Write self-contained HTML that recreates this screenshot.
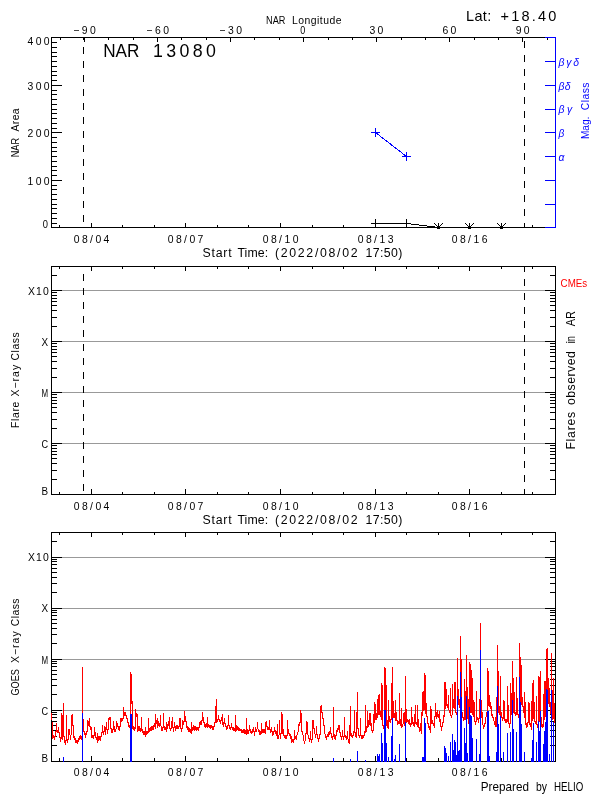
<!DOCTYPE html>
<html><head><meta charset="utf-8"><title>NAR 13080</title>
<style>
html,body{margin:0;padding:0;background:#fff;width:600px;height:800px;overflow:hidden}
svg{display:block}
text{font-family:"Liberation Sans", sans-serif;}
</style></head><body>
<svg width="600" height="800" viewBox="0 0 600 800" shape-rendering="crispEdges">
<rect x="0" y="0" width="600" height="800" fill="#fff"/>
<rect x="83" y="37" width="1" height="3" fill="#000"/>
<rect x="83" y="47" width="1" height="7" fill="#000"/>
<rect x="83" y="61" width="1" height="7" fill="#000"/>
<rect x="83" y="75" width="1" height="7" fill="#000"/>
<rect x="83" y="89" width="1" height="7" fill="#000"/>
<rect x="83" y="103" width="1" height="7" fill="#000"/>
<rect x="83" y="117" width="1" height="7" fill="#000"/>
<rect x="83" y="131" width="1" height="7" fill="#000"/>
<rect x="83" y="145" width="1" height="7" fill="#000"/>
<rect x="83" y="159" width="1" height="7" fill="#000"/>
<rect x="83" y="173" width="1" height="7" fill="#000"/>
<rect x="83" y="187" width="1" height="7" fill="#000"/>
<rect x="83" y="201" width="1" height="7" fill="#000"/>
<rect x="83" y="215" width="1" height="7" fill="#000"/>
<rect x="524" y="41" width="1" height="7" fill="#000"/>
<rect x="524" y="55" width="1" height="7" fill="#000"/>
<rect x="524" y="69" width="1" height="7" fill="#000"/>
<rect x="524" y="83" width="1" height="7" fill="#000"/>
<rect x="524" y="97" width="1" height="7" fill="#000"/>
<rect x="524" y="111" width="1" height="7" fill="#000"/>
<rect x="524" y="125" width="1" height="7" fill="#000"/>
<rect x="524" y="139" width="1" height="7" fill="#000"/>
<rect x="524" y="153" width="1" height="7" fill="#000"/>
<rect x="524" y="167" width="1" height="7" fill="#000"/>
<rect x="524" y="181" width="1" height="7" fill="#000"/>
<rect x="524" y="195" width="1" height="7" fill="#000"/>
<rect x="524" y="209" width="1" height="7" fill="#000"/>
<rect x="524" y="223" width="1" height="4" fill="#000"/>
<rect x="51" y="37" width="505" height="1" fill="#000"/>
<rect x="51" y="227" width="505" height="1" fill="#000"/>
<rect x="51" y="37" width="1" height="191" fill="#000"/>
<rect x="555" y="37" width="1" height="191" fill="#000"/>
<rect x="555" y="37" width="1" height="191" fill="#0000ff"/>
<rect x="545" y="37" width="11" height="1" fill="#0000ff"/>
<rect x="545" y="227" width="11" height="1" fill="#0000ff"/>
<rect x="545" y="61" width="11" height="1" fill="#0000ff"/>
<rect x="545" y="85" width="11" height="1" fill="#0000ff"/>
<rect x="545" y="109" width="11" height="1" fill="#0000ff"/>
<rect x="545" y="132" width="11" height="1" fill="#0000ff"/>
<rect x="545" y="156" width="11" height="1" fill="#0000ff"/>
<rect x="545" y="180" width="11" height="1" fill="#0000ff"/>
<rect x="545" y="204" width="11" height="1" fill="#0000ff"/>
<rect x="59" y="225" width="1" height="2" fill="#000"/>
<rect x="91" y="223" width="1" height="4" fill="#000"/>
<rect x="122" y="225" width="1" height="2" fill="#000"/>
<rect x="154" y="225" width="1" height="2" fill="#000"/>
<rect x="185" y="223" width="1" height="4" fill="#000"/>
<rect x="217" y="225" width="1" height="2" fill="#000"/>
<rect x="248" y="225" width="1" height="2" fill="#000"/>
<rect x="280" y="223" width="1" height="4" fill="#000"/>
<rect x="312" y="225" width="1" height="2" fill="#000"/>
<rect x="343" y="225" width="1" height="2" fill="#000"/>
<rect x="375" y="223" width="1" height="4" fill="#000"/>
<rect x="406" y="225" width="1" height="2" fill="#000"/>
<rect x="438" y="225" width="1" height="2" fill="#000"/>
<rect x="469" y="223" width="1" height="4" fill="#000"/>
<rect x="501" y="225" width="1" height="2" fill="#000"/>
<rect x="532" y="225" width="1" height="2" fill="#000"/>
<rect x="60" y="38" width="1" height="2" fill="#000"/>
<rect x="84" y="38" width="1" height="4" fill="#000"/>
<rect x="108" y="38" width="1" height="2" fill="#000"/>
<rect x="133" y="38" width="1" height="2" fill="#000"/>
<rect x="157" y="38" width="1" height="4" fill="#000"/>
<rect x="181" y="38" width="1" height="2" fill="#000"/>
<rect x="206" y="38" width="1" height="2" fill="#000"/>
<rect x="230" y="38" width="1" height="4" fill="#000"/>
<rect x="254" y="38" width="1" height="2" fill="#000"/>
<rect x="279" y="38" width="1" height="2" fill="#000"/>
<rect x="303" y="38" width="1" height="4" fill="#000"/>
<rect x="328" y="38" width="1" height="2" fill="#000"/>
<rect x="352" y="38" width="1" height="2" fill="#000"/>
<rect x="376" y="38" width="1" height="4" fill="#000"/>
<rect x="401" y="38" width="1" height="2" fill="#000"/>
<rect x="425" y="38" width="1" height="2" fill="#000"/>
<rect x="449" y="38" width="1" height="4" fill="#000"/>
<rect x="474" y="38" width="1" height="2" fill="#000"/>
<rect x="498" y="38" width="1" height="2" fill="#000"/>
<rect x="522" y="38" width="1" height="4" fill="#000"/>
<rect x="547" y="38" width="1" height="2" fill="#000"/>
<rect x="51" y="227" width="11" height="1" fill="#000"/>
<rect x="51" y="223" width="6" height="1" fill="#000"/>
<rect x="51" y="218" width="6" height="1" fill="#000"/>
<rect x="51" y="213" width="6" height="1" fill="#000"/>
<rect x="51" y="208" width="6" height="1" fill="#000"/>
<rect x="51" y="204" width="6" height="1" fill="#000"/>
<rect x="51" y="199" width="6" height="1" fill="#000"/>
<rect x="51" y="194" width="6" height="1" fill="#000"/>
<rect x="51" y="189" width="6" height="1" fill="#000"/>
<rect x="51" y="185" width="6" height="1" fill="#000"/>
<rect x="51" y="180" width="11" height="1" fill="#000"/>
<rect x="51" y="175" width="6" height="1" fill="#000"/>
<rect x="51" y="170" width="6" height="1" fill="#000"/>
<rect x="51" y="166" width="6" height="1" fill="#000"/>
<rect x="51" y="161" width="6" height="1" fill="#000"/>
<rect x="51" y="156" width="6" height="1" fill="#000"/>
<rect x="51" y="151" width="6" height="1" fill="#000"/>
<rect x="51" y="147" width="6" height="1" fill="#000"/>
<rect x="51" y="142" width="6" height="1" fill="#000"/>
<rect x="51" y="137" width="6" height="1" fill="#000"/>
<rect x="51" y="132" width="11" height="1" fill="#000"/>
<rect x="51" y="128" width="6" height="1" fill="#000"/>
<rect x="51" y="123" width="6" height="1" fill="#000"/>
<rect x="51" y="118" width="6" height="1" fill="#000"/>
<rect x="51" y="113" width="6" height="1" fill="#000"/>
<rect x="51" y="109" width="6" height="1" fill="#000"/>
<rect x="51" y="104" width="6" height="1" fill="#000"/>
<rect x="51" y="99" width="6" height="1" fill="#000"/>
<rect x="51" y="94" width="6" height="1" fill="#000"/>
<rect x="51" y="90" width="6" height="1" fill="#000"/>
<rect x="51" y="85" width="11" height="1" fill="#000"/>
<rect x="51" y="80" width="6" height="1" fill="#000"/>
<rect x="51" y="75" width="6" height="1" fill="#000"/>
<rect x="51" y="71" width="6" height="1" fill="#000"/>
<rect x="51" y="66" width="6" height="1" fill="#000"/>
<rect x="51" y="61" width="6" height="1" fill="#000"/>
<rect x="51" y="56" width="6" height="1" fill="#000"/>
<rect x="51" y="52" width="6" height="1" fill="#000"/>
<rect x="51" y="47" width="6" height="1" fill="#000"/>
<rect x="51" y="42" width="6" height="1" fill="#000"/>
<rect x="51" y="37" width="11" height="1" fill="#000"/>
<g shape-rendering="crispEdges" fill="none" stroke-width="1">
<path d="M375.5 132.5L406.5 156.5" stroke="#0000ff"/>
<path d="M375.5 223.5H406.5L438.5 227.5H501.5" stroke="#000"/>
<path d="M434.5 223.5L438.5 227.5L442.5 223.5" stroke="#000"/>
<path d="M465.5 223.5L469.5 227.5L473.5 223.5" stroke="#000"/>
<path d="M497.5 223.5L501.5 227.5L505.5 223.5" stroke="#000"/>
</g>
<rect x="438" y="223" width="1" height="6" fill="#000"/>
<rect x="437" y="226" width="3" height="3" fill="#000"/>
<rect x="469" y="223" width="1" height="6" fill="#000"/>
<rect x="468" y="226" width="3" height="3" fill="#000"/>
<rect x="501" y="223" width="1" height="6" fill="#000"/>
<rect x="500" y="226" width="3" height="3" fill="#000"/>
<rect x="371" y="132" width="9" height="1" fill="#0000ff"/>
<rect x="375" y="128" width="1" height="9" fill="#0000ff"/>
<rect x="402" y="156" width="9" height="1" fill="#0000ff"/>
<rect x="406" y="152" width="1" height="9" fill="#0000ff"/>
<rect x="371" y="223" width="9" height="1" fill="#000"/>
<rect x="375" y="219" width="1" height="9" fill="#000"/>
<rect x="402" y="223" width="9" height="1" fill="#000"/>
<rect x="406" y="219" width="1" height="9" fill="#000"/>
<rect x="52" y="290" width="503" height="1" fill="#999999"/>
<rect x="52" y="341" width="503" height="1" fill="#999999"/>
<rect x="52" y="392" width="503" height="1" fill="#999999"/>
<rect x="52" y="443" width="503" height="1" fill="#999999"/>
<rect x="83" y="266" width="1" height="1" fill="#000"/>
<rect x="83" y="274" width="1" height="7" fill="#000"/>
<rect x="83" y="288" width="1" height="7" fill="#000"/>
<rect x="83" y="302" width="1" height="7" fill="#000"/>
<rect x="83" y="316" width="1" height="7" fill="#000"/>
<rect x="83" y="330" width="1" height="7" fill="#000"/>
<rect x="83" y="344" width="1" height="7" fill="#000"/>
<rect x="83" y="358" width="1" height="7" fill="#000"/>
<rect x="83" y="372" width="1" height="7" fill="#000"/>
<rect x="83" y="386" width="1" height="7" fill="#000"/>
<rect x="83" y="400" width="1" height="7" fill="#000"/>
<rect x="83" y="414" width="1" height="7" fill="#000"/>
<rect x="83" y="428" width="1" height="7" fill="#000"/>
<rect x="83" y="442" width="1" height="7" fill="#000"/>
<rect x="83" y="456" width="1" height="7" fill="#000"/>
<rect x="83" y="470" width="1" height="7" fill="#000"/>
<rect x="83" y="484" width="1" height="7" fill="#000"/>
<rect x="524" y="266" width="1" height="6" fill="#000"/>
<rect x="524" y="279" width="1" height="7" fill="#000"/>
<rect x="524" y="293" width="1" height="7" fill="#000"/>
<rect x="524" y="307" width="1" height="7" fill="#000"/>
<rect x="524" y="321" width="1" height="7" fill="#000"/>
<rect x="524" y="335" width="1" height="7" fill="#000"/>
<rect x="524" y="349" width="1" height="7" fill="#000"/>
<rect x="524" y="363" width="1" height="7" fill="#000"/>
<rect x="524" y="377" width="1" height="7" fill="#000"/>
<rect x="524" y="391" width="1" height="7" fill="#000"/>
<rect x="524" y="405" width="1" height="7" fill="#000"/>
<rect x="524" y="419" width="1" height="7" fill="#000"/>
<rect x="524" y="433" width="1" height="7" fill="#000"/>
<rect x="524" y="447" width="1" height="7" fill="#000"/>
<rect x="524" y="461" width="1" height="7" fill="#000"/>
<rect x="524" y="475" width="1" height="7" fill="#000"/>
<rect x="524" y="489" width="1" height="5" fill="#000"/>
<rect x="51" y="266" width="505" height="1" fill="#000"/>
<rect x="51" y="494" width="505" height="1" fill="#000"/>
<rect x="51" y="266" width="1" height="229" fill="#000"/>
<rect x="555" y="266" width="1" height="229" fill="#000"/>
<rect x="51" y="290" width="11" height="1" fill="#000"/>
<rect x="545" y="290" width="11" height="1" fill="#000"/>
<rect x="51" y="341" width="11" height="1" fill="#000"/>
<rect x="545" y="341" width="11" height="1" fill="#000"/>
<rect x="51" y="392" width="11" height="1" fill="#000"/>
<rect x="545" y="392" width="11" height="1" fill="#000"/>
<rect x="51" y="443" width="11" height="1" fill="#000"/>
<rect x="545" y="443" width="11" height="1" fill="#000"/>
<rect x="51" y="275" width="6" height="1" fill="#000"/>
<rect x="550" y="275" width="6" height="1" fill="#000"/>
<rect x="51" y="326" width="6" height="1" fill="#000"/>
<rect x="550" y="326" width="6" height="1" fill="#000"/>
<rect x="51" y="317" width="6" height="1" fill="#000"/>
<rect x="550" y="317" width="6" height="1" fill="#000"/>
<rect x="51" y="310" width="6" height="1" fill="#000"/>
<rect x="550" y="310" width="6" height="1" fill="#000"/>
<rect x="51" y="305" width="6" height="1" fill="#000"/>
<rect x="550" y="305" width="6" height="1" fill="#000"/>
<rect x="51" y="301" width="6" height="1" fill="#000"/>
<rect x="550" y="301" width="6" height="1" fill="#000"/>
<rect x="51" y="298" width="6" height="1" fill="#000"/>
<rect x="550" y="298" width="6" height="1" fill="#000"/>
<rect x="51" y="295" width="6" height="1" fill="#000"/>
<rect x="550" y="295" width="6" height="1" fill="#000"/>
<rect x="51" y="292" width="6" height="1" fill="#000"/>
<rect x="550" y="292" width="6" height="1" fill="#000"/>
<rect x="51" y="377" width="6" height="1" fill="#000"/>
<rect x="550" y="377" width="6" height="1" fill="#000"/>
<rect x="51" y="368" width="6" height="1" fill="#000"/>
<rect x="550" y="368" width="6" height="1" fill="#000"/>
<rect x="51" y="361" width="6" height="1" fill="#000"/>
<rect x="550" y="361" width="6" height="1" fill="#000"/>
<rect x="51" y="356" width="6" height="1" fill="#000"/>
<rect x="550" y="356" width="6" height="1" fill="#000"/>
<rect x="51" y="352" width="6" height="1" fill="#000"/>
<rect x="550" y="352" width="6" height="1" fill="#000"/>
<rect x="51" y="349" width="6" height="1" fill="#000"/>
<rect x="550" y="349" width="6" height="1" fill="#000"/>
<rect x="51" y="346" width="6" height="1" fill="#000"/>
<rect x="550" y="346" width="6" height="1" fill="#000"/>
<rect x="51" y="343" width="6" height="1" fill="#000"/>
<rect x="550" y="343" width="6" height="1" fill="#000"/>
<rect x="51" y="428" width="6" height="1" fill="#000"/>
<rect x="550" y="428" width="6" height="1" fill="#000"/>
<rect x="51" y="419" width="6" height="1" fill="#000"/>
<rect x="550" y="419" width="6" height="1" fill="#000"/>
<rect x="51" y="412" width="6" height="1" fill="#000"/>
<rect x="550" y="412" width="6" height="1" fill="#000"/>
<rect x="51" y="407" width="6" height="1" fill="#000"/>
<rect x="550" y="407" width="6" height="1" fill="#000"/>
<rect x="51" y="403" width="6" height="1" fill="#000"/>
<rect x="550" y="403" width="6" height="1" fill="#000"/>
<rect x="51" y="400" width="6" height="1" fill="#000"/>
<rect x="550" y="400" width="6" height="1" fill="#000"/>
<rect x="51" y="397" width="6" height="1" fill="#000"/>
<rect x="550" y="397" width="6" height="1" fill="#000"/>
<rect x="51" y="394" width="6" height="1" fill="#000"/>
<rect x="550" y="394" width="6" height="1" fill="#000"/>
<rect x="51" y="479" width="6" height="1" fill="#000"/>
<rect x="550" y="479" width="6" height="1" fill="#000"/>
<rect x="51" y="470" width="6" height="1" fill="#000"/>
<rect x="550" y="470" width="6" height="1" fill="#000"/>
<rect x="51" y="463" width="6" height="1" fill="#000"/>
<rect x="550" y="463" width="6" height="1" fill="#000"/>
<rect x="51" y="458" width="6" height="1" fill="#000"/>
<rect x="550" y="458" width="6" height="1" fill="#000"/>
<rect x="51" y="454" width="6" height="1" fill="#000"/>
<rect x="550" y="454" width="6" height="1" fill="#000"/>
<rect x="51" y="451" width="6" height="1" fill="#000"/>
<rect x="550" y="451" width="6" height="1" fill="#000"/>
<rect x="51" y="448" width="6" height="1" fill="#000"/>
<rect x="550" y="448" width="6" height="1" fill="#000"/>
<rect x="51" y="445" width="6" height="1" fill="#000"/>
<rect x="550" y="445" width="6" height="1" fill="#000"/>
<rect x="59" y="492" width="1" height="2" fill="#000"/>
<rect x="91" y="489" width="1" height="5" fill="#000"/>
<rect x="122" y="492" width="1" height="2" fill="#000"/>
<rect x="154" y="492" width="1" height="2" fill="#000"/>
<rect x="185" y="489" width="1" height="5" fill="#000"/>
<rect x="217" y="492" width="1" height="2" fill="#000"/>
<rect x="248" y="492" width="1" height="2" fill="#000"/>
<rect x="280" y="489" width="1" height="5" fill="#000"/>
<rect x="312" y="492" width="1" height="2" fill="#000"/>
<rect x="343" y="492" width="1" height="2" fill="#000"/>
<rect x="375" y="489" width="1" height="5" fill="#000"/>
<rect x="406" y="492" width="1" height="2" fill="#000"/>
<rect x="438" y="492" width="1" height="2" fill="#000"/>
<rect x="469" y="489" width="1" height="5" fill="#000"/>
<rect x="501" y="492" width="1" height="2" fill="#000"/>
<rect x="532" y="492" width="1" height="2" fill="#000"/>
<rect x="59" y="267" width="1" height="2" fill="#000"/>
<rect x="91" y="267" width="1" height="4" fill="#000"/>
<rect x="122" y="267" width="1" height="2" fill="#000"/>
<rect x="154" y="267" width="1" height="2" fill="#000"/>
<rect x="185" y="267" width="1" height="4" fill="#000"/>
<rect x="217" y="267" width="1" height="2" fill="#000"/>
<rect x="248" y="267" width="1" height="2" fill="#000"/>
<rect x="280" y="267" width="1" height="4" fill="#000"/>
<rect x="312" y="267" width="1" height="2" fill="#000"/>
<rect x="343" y="267" width="1" height="2" fill="#000"/>
<rect x="375" y="267" width="1" height="4" fill="#000"/>
<rect x="406" y="267" width="1" height="2" fill="#000"/>
<rect x="438" y="267" width="1" height="2" fill="#000"/>
<rect x="469" y="267" width="1" height="4" fill="#000"/>
<rect x="501" y="267" width="1" height="2" fill="#000"/>
<rect x="532" y="267" width="1" height="2" fill="#000"/>
<rect x="52" y="557" width="503" height="1" fill="#999999"/>
<rect x="52" y="608" width="503" height="1" fill="#999999"/>
<rect x="52" y="659" width="503" height="1" fill="#999999"/>
<rect x="52" y="710" width="503" height="1" fill="#999999"/>
<rect x="51" y="532" width="505" height="1" fill="#000"/>
<rect x="51" y="761" width="505" height="1" fill="#000"/>
<rect x="51" y="532" width="1" height="230" fill="#000"/>
<rect x="555" y="532" width="1" height="230" fill="#000"/>
<rect x="51" y="557" width="11" height="1" fill="#000"/>
<rect x="545" y="557" width="11" height="1" fill="#000"/>
<rect x="51" y="608" width="11" height="1" fill="#000"/>
<rect x="545" y="608" width="11" height="1" fill="#000"/>
<rect x="51" y="659" width="11" height="1" fill="#000"/>
<rect x="545" y="659" width="11" height="1" fill="#000"/>
<rect x="51" y="710" width="11" height="1" fill="#000"/>
<rect x="545" y="710" width="11" height="1" fill="#000"/>
<rect x="51" y="541" width="6" height="1" fill="#000"/>
<rect x="550" y="541" width="6" height="1" fill="#000"/>
<rect x="51" y="592" width="6" height="1" fill="#000"/>
<rect x="550" y="592" width="6" height="1" fill="#000"/>
<rect x="51" y="583" width="6" height="1" fill="#000"/>
<rect x="550" y="583" width="6" height="1" fill="#000"/>
<rect x="51" y="577" width="6" height="1" fill="#000"/>
<rect x="550" y="577" width="6" height="1" fill="#000"/>
<rect x="51" y="572" width="6" height="1" fill="#000"/>
<rect x="550" y="572" width="6" height="1" fill="#000"/>
<rect x="51" y="568" width="6" height="1" fill="#000"/>
<rect x="550" y="568" width="6" height="1" fill="#000"/>
<rect x="51" y="564" width="6" height="1" fill="#000"/>
<rect x="550" y="564" width="6" height="1" fill="#000"/>
<rect x="51" y="561" width="6" height="1" fill="#000"/>
<rect x="550" y="561" width="6" height="1" fill="#000"/>
<rect x="51" y="559" width="6" height="1" fill="#000"/>
<rect x="550" y="559" width="6" height="1" fill="#000"/>
<rect x="51" y="643" width="6" height="1" fill="#000"/>
<rect x="550" y="643" width="6" height="1" fill="#000"/>
<rect x="51" y="634" width="6" height="1" fill="#000"/>
<rect x="550" y="634" width="6" height="1" fill="#000"/>
<rect x="51" y="628" width="6" height="1" fill="#000"/>
<rect x="550" y="628" width="6" height="1" fill="#000"/>
<rect x="51" y="623" width="6" height="1" fill="#000"/>
<rect x="550" y="623" width="6" height="1" fill="#000"/>
<rect x="51" y="619" width="6" height="1" fill="#000"/>
<rect x="550" y="619" width="6" height="1" fill="#000"/>
<rect x="51" y="615" width="6" height="1" fill="#000"/>
<rect x="550" y="615" width="6" height="1" fill="#000"/>
<rect x="51" y="612" width="6" height="1" fill="#000"/>
<rect x="550" y="612" width="6" height="1" fill="#000"/>
<rect x="51" y="610" width="6" height="1" fill="#000"/>
<rect x="550" y="610" width="6" height="1" fill="#000"/>
<rect x="51" y="694" width="6" height="1" fill="#000"/>
<rect x="550" y="694" width="6" height="1" fill="#000"/>
<rect x="51" y="685" width="6" height="1" fill="#000"/>
<rect x="550" y="685" width="6" height="1" fill="#000"/>
<rect x="51" y="679" width="6" height="1" fill="#000"/>
<rect x="550" y="679" width="6" height="1" fill="#000"/>
<rect x="51" y="674" width="6" height="1" fill="#000"/>
<rect x="550" y="674" width="6" height="1" fill="#000"/>
<rect x="51" y="670" width="6" height="1" fill="#000"/>
<rect x="550" y="670" width="6" height="1" fill="#000"/>
<rect x="51" y="666" width="6" height="1" fill="#000"/>
<rect x="550" y="666" width="6" height="1" fill="#000"/>
<rect x="51" y="663" width="6" height="1" fill="#000"/>
<rect x="550" y="663" width="6" height="1" fill="#000"/>
<rect x="51" y="661" width="6" height="1" fill="#000"/>
<rect x="550" y="661" width="6" height="1" fill="#000"/>
<rect x="51" y="745" width="6" height="1" fill="#000"/>
<rect x="550" y="745" width="6" height="1" fill="#000"/>
<rect x="51" y="736" width="6" height="1" fill="#000"/>
<rect x="550" y="736" width="6" height="1" fill="#000"/>
<rect x="51" y="730" width="6" height="1" fill="#000"/>
<rect x="550" y="730" width="6" height="1" fill="#000"/>
<rect x="51" y="725" width="6" height="1" fill="#000"/>
<rect x="550" y="725" width="6" height="1" fill="#000"/>
<rect x="51" y="721" width="6" height="1" fill="#000"/>
<rect x="550" y="721" width="6" height="1" fill="#000"/>
<rect x="51" y="717" width="6" height="1" fill="#000"/>
<rect x="550" y="717" width="6" height="1" fill="#000"/>
<rect x="51" y="714" width="6" height="1" fill="#000"/>
<rect x="550" y="714" width="6" height="1" fill="#000"/>
<rect x="51" y="712" width="6" height="1" fill="#000"/>
<rect x="550" y="712" width="6" height="1" fill="#000"/>
<rect x="59" y="758" width="1" height="3" fill="#000"/>
<rect x="91" y="756" width="1" height="5" fill="#000"/>
<rect x="122" y="758" width="1" height="3" fill="#000"/>
<rect x="154" y="758" width="1" height="3" fill="#000"/>
<rect x="185" y="756" width="1" height="5" fill="#000"/>
<rect x="217" y="758" width="1" height="3" fill="#000"/>
<rect x="248" y="758" width="1" height="3" fill="#000"/>
<rect x="280" y="756" width="1" height="5" fill="#000"/>
<rect x="312" y="758" width="1" height="3" fill="#000"/>
<rect x="343" y="758" width="1" height="3" fill="#000"/>
<rect x="375" y="756" width="1" height="5" fill="#000"/>
<rect x="406" y="758" width="1" height="3" fill="#000"/>
<rect x="438" y="758" width="1" height="3" fill="#000"/>
<rect x="469" y="756" width="1" height="5" fill="#000"/>
<rect x="501" y="758" width="1" height="3" fill="#000"/>
<rect x="532" y="758" width="1" height="3" fill="#000"/>
<rect x="59" y="533" width="1" height="2" fill="#000"/>
<rect x="91" y="533" width="1" height="4" fill="#000"/>
<rect x="122" y="533" width="1" height="2" fill="#000"/>
<rect x="154" y="533" width="1" height="2" fill="#000"/>
<rect x="185" y="533" width="1" height="4" fill="#000"/>
<rect x="217" y="533" width="1" height="2" fill="#000"/>
<rect x="248" y="533" width="1" height="2" fill="#000"/>
<rect x="280" y="533" width="1" height="4" fill="#000"/>
<rect x="312" y="533" width="1" height="2" fill="#000"/>
<rect x="343" y="533" width="1" height="2" fill="#000"/>
<rect x="375" y="533" width="1" height="4" fill="#000"/>
<rect x="406" y="533" width="1" height="2" fill="#000"/>
<rect x="438" y="533" width="1" height="2" fill="#000"/>
<rect x="469" y="533" width="1" height="4" fill="#000"/>
<rect x="501" y="533" width="1" height="2" fill="#000"/>
<rect x="532" y="533" width="1" height="2" fill="#000"/>
<path d="M52 722h1v17h-1zM53 735h1v3h-1zM54 736h1v4h-1zM55 731h1v6h-1zM56 723h1v9h-1zM57 730h1v3h-1zM58 727h1v6h-1zM59 732h1v6h-1zM60 737h1v5h-1zM61 713h1v26h-1zM62 715h1v25h-1zM63 703h1v34h-1zM64 736h1v7h-1zM65 740h1v5h-1zM66 715h1v26h-1zM67 739h1v4h-1zM68 729h1v11h-1zM69 729h1v6h-1zM70 735h1v5h-1zM71 715h1v20h-1zM72 714h1v12h-1zM73 725h1v13h-1zM74 736h1v4h-1zM75 738h1v5h-1zM76 740h1v3h-1zM77 740h1v4h-1zM78 738h1v4h-1zM79 736h1v4h-1zM80 735h1v4h-1zM81 736h1v4h-1zM82 667h1v74h-1zM83 719h1v13h-1zM84 731h1v4h-1zM85 733h1v5h-1zM86 731h1v4h-1zM87 720h1v12h-1zM88 721h1v5h-1zM89 718h1v9h-1zM90 726h1v4h-1zM91 727h1v11h-1zM92 735h1v3h-1zM93 735h1v4h-1zM94 727h1v9h-1zM95 732h1v6h-1zM96 737h1v3h-1zM97 733h1v10h-1zM98 736h1v5h-1zM99 736h1v4h-1zM100 736h1v5h-1zM101 732h1v5h-1zM102 725h1v8h-1zM103 731h1v4h-1zM104 726h1v6h-1zM105 727h1v8h-1zM106 722h1v8h-1zM107 729h1v5h-1zM108 718h1v12h-1zM109 717h1v3h-1zM110 717h1v12h-1zM111 728h1v5h-1zM112 729h1v4h-1zM113 721h1v9h-1zM114 726h1v6h-1zM115 729h1v3h-1zM116 721h1v8h-1zM117 723h1v4h-1zM118 726h1v4h-1zM119 726h1v5h-1zM120 718h1v9h-1zM121 718h1v4h-1zM122 718h1v3h-1zM123 707h1v12h-1zM124 712h1v4h-1zM125 712h1v4h-1zM126 715h1v4h-1zM127 718h1v5h-1zM128 722h1v5h-1zM129 725h1v3h-1zM130 672h1v53h-1zM131 674h1v30h-1zM132 701h1v28h-1zM133 726h1v4h-1zM134 727h1v4h-1zM135 709h1v20h-1zM136 713h1v4h-1zM137 714h1v18h-1zM138 726h1v5h-1zM139 726h1v5h-1zM140 728h1v4h-1zM141 717h1v14h-1zM142 729h1v4h-1zM143 731h1v4h-1zM144 731h1v4h-1zM145 727h1v10h-1zM146 731h1v4h-1zM147 731h1v3h-1zM148 718h1v15h-1zM149 728h1v4h-1zM150 727h1v4h-1zM151 726h1v5h-1zM152 726h1v4h-1zM153 725h1v5h-1zM154 723h1v4h-1zM155 714h1v15h-1zM156 720h1v4h-1zM157 718h1v10h-1zM158 721h1v5h-1zM159 723h1v4h-1zM160 715h1v11h-1zM161 726h1v5h-1zM162 727h1v4h-1zM163 713h1v15h-1zM164 726h1v4h-1zM165 727h1v3h-1zM166 722h1v10h-1zM167 724h1v5h-1zM168 721h1v5h-1zM169 717h1v12h-1zM170 728h1v3h-1zM171 721h1v8h-1zM172 717h1v11h-1zM173 727h1v5h-1zM174 722h1v6h-1zM175 726h1v5h-1zM176 725h1v4h-1zM177 725h1v4h-1zM178 726h1v3h-1zM179 718h1v9h-1zM180 718h1v11h-1zM181 728h1v4h-1zM182 720h1v9h-1zM183 721h1v4h-1zM184 711h1v11h-1zM185 716h1v6h-1zM186 721h1v7h-1zM187 726h1v4h-1zM188 727h1v5h-1zM189 728h1v4h-1zM190 729h1v4h-1zM191 722h1v12h-1zM192 727h1v4h-1zM193 725h1v5h-1zM194 726h1v5h-1zM195 726h1v4h-1zM196 727h1v4h-1zM197 727h1v3h-1zM198 727h1v4h-1zM199 722h1v6h-1zM200 721h1v4h-1zM201 720h1v5h-1zM202 712h1v9h-1zM203 717h1v6h-1zM204 722h1v5h-1zM205 724h1v4h-1zM206 723h1v4h-1zM207 717h1v11h-1zM208 724h1v3h-1zM209 725h1v3h-1zM210 725h1v4h-1zM211 725h1v3h-1zM212 726h1v4h-1zM213 726h1v4h-1zM214 722h1v5h-1zM215 706h1v17h-1zM216 699h1v24h-1zM217 719h1v3h-1zM218 715h1v5h-1zM219 719h1v3h-1zM220 720h1v4h-1zM221 717h1v4h-1zM222 714h1v11h-1zM223 722h1v5h-1zM224 718h1v6h-1zM225 723h1v4h-1zM226 726h1v4h-1zM227 725h1v4h-1zM228 715h1v11h-1zM229 725h1v4h-1zM230 727h1v3h-1zM231 723h1v5h-1zM232 727h1v3h-1zM233 727h1v4h-1zM234 728h1v3h-1zM235 715h1v17h-1zM236 725h1v6h-1zM237 726h1v4h-1zM238 727h1v4h-1zM239 728h1v3h-1zM240 729h1v2h-1zM241 729h1v4h-1zM242 730h1v3h-1zM243 729h1v4h-1zM244 729h1v5h-1zM245 730h1v4h-1zM246 718h1v17h-1zM247 729h1v5h-1zM248 730h1v4h-1zM249 725h1v6h-1zM250 729h1v4h-1zM251 731h1v3h-1zM252 729h1v4h-1zM253 727h1v5h-1zM254 731h1v5h-1zM255 727h1v5h-1zM256 729h1v3h-1zM257 722h1v7h-1zM258 729h1v3h-1zM259 730h1v5h-1zM260 731h1v4h-1zM261 723h1v11h-1zM262 729h1v4h-1zM263 729h1v4h-1zM264 729h1v4h-1zM265 722h1v12h-1zM266 721h1v6h-1zM267 726h1v4h-1zM268 727h1v3h-1zM269 720h1v10h-1zM270 729h1v4h-1zM271 727h1v5h-1zM272 731h1v5h-1zM273 731h1v4h-1zM274 727h1v5h-1zM275 730h1v4h-1zM276 731h1v5h-1zM277 724h1v15h-1zM278 735h1v4h-1zM279 720h1v15h-1zM280 733h1v6h-1zM281 712h1v22h-1zM282 714h1v20h-1zM283 729h1v7h-1zM284 735h1v3h-1zM285 735h1v4h-1zM286 735h1v4h-1zM287 720h1v16h-1zM288 729h1v5h-1zM289 733h1v3h-1zM290 734h1v5h-1zM291 736h1v7h-1zM292 739h1v3h-1zM293 739h1v4h-1zM294 730h1v10h-1zM295 736h1v3h-1zM296 735h1v5h-1zM297 732h1v3h-1zM298 724h1v8h-1zM299 722h1v4h-1zM300 710h1v13h-1zM301 713h1v19h-1zM302 731h1v4h-1zM303 735h1v6h-1zM304 741h1v3h-1zM305 733h1v8h-1zM306 721h1v13h-1zM307 722h1v13h-1zM308 735h1v4h-1zM309 738h1v4h-1zM310 731h1v9h-1zM311 739h1v4h-1zM312 720h1v20h-1zM313 720h1v9h-1zM314 728h1v6h-1zM315 734h1v4h-1zM316 726h1v9h-1zM317 734h1v5h-1zM318 738h1v4h-1zM319 734h1v5h-1zM320 706h1v29h-1zM321 705h1v8h-1zM322 712h1v7h-1zM323 718h1v8h-1zM324 725h1v9h-1zM325 734h1v4h-1zM326 736h1v4h-1zM327 734h1v3h-1zM328 732h1v5h-1zM329 731h1v4h-1zM330 727h1v7h-1zM331 733h1v5h-1zM332 736h1v4h-1zM333 707h1v30h-1zM334 734h1v5h-1zM335 735h1v5h-1zM336 730h1v6h-1zM337 728h1v4h-1zM338 725h1v5h-1zM339 725h1v8h-1zM340 732h1v5h-1zM341 736h1v4h-1zM342 730h1v7h-1zM343 736h1v4h-1zM344 717h1v20h-1zM345 735h1v3h-1zM346 736h1v4h-1zM347 731h1v8h-1zM348 739h1v4h-1zM349 725h1v19h-1zM350 706h1v30h-1zM351 733h1v4h-1zM352 735h1v3h-1zM353 731h1v5h-1zM354 710h1v23h-1zM355 732h1v5h-1zM356 712h1v26h-1zM357 692h1v37h-1zM358 728h1v8h-1zM359 735h1v3h-1zM360 718h1v18h-1zM361 735h1v4h-1zM362 735h1v4h-1zM363 735h1v3h-1zM364 731h1v5h-1zM365 705h1v28h-1zM366 726h1v6h-1zM367 711h1v17h-1zM368 720h1v7h-1zM369 713h1v12h-1zM370 713h1v13h-1zM371 723h1v8h-1zM372 730h1v3h-1zM373 714h1v17h-1zM374 702h1v21h-1zM375 704h1v16h-1zM376 713h1v7h-1zM377 699h1v19h-1zM378 695h1v20h-1zM379 694h1v21h-1zM380 711h1v6h-1zM381 683h1v37h-1zM382 685h1v41h-1zM383 725h1v4h-1zM384 667h1v59h-1zM385 668h1v54h-1zM386 685h1v41h-1zM387 720h1v8h-1zM388 700h1v29h-1zM389 716h1v6h-1zM390 719h1v4h-1zM391 683h1v37h-1zM392 667h1v51h-1zM393 701h1v17h-1zM394 713h1v5h-1zM395 700h1v21h-1zM396 712h1v9h-1zM397 720h1v5h-1zM398 721h1v3h-1zM399 693h1v31h-1zM400 719h1v7h-1zM401 708h1v20h-1zM402 724h1v3h-1zM403 713h1v11h-1zM404 712h1v14h-1zM405 676h1v46h-1zM406 709h1v14h-1zM407 719h1v3h-1zM408 720h1v4h-1zM409 719h1v6h-1zM410 723h1v4h-1zM411 707h1v18h-1zM412 717h1v7h-1zM413 722h1v4h-1zM414 714h1v13h-1zM415 705h1v19h-1zM416 722h1v3h-1zM417 705h1v22h-1zM418 719h1v9h-1zM419 727h1v5h-1zM420 723h1v8h-1zM421 712h1v22h-1zM422 692h1v24h-1zM423 691h1v20h-1zM424 673h1v37h-1zM425 675h1v39h-1zM426 703h1v14h-1zM427 716h1v8h-1zM428 723h1v5h-1zM429 726h1v4h-1zM430 706h1v27h-1zM431 709h1v15h-1zM432 720h1v4h-1zM433 723h1v3h-1zM434 716h1v12h-1zM435 703h1v14h-1zM436 712h1v7h-1zM437 710h1v7h-1zM438 714h1v4h-1zM439 711h1v11h-1zM440 719h1v8h-1zM441 726h1v5h-1zM442 722h1v5h-1zM443 715h1v8h-1zM444 682h1v35h-1zM445 682h1v27h-1zM446 689h1v17h-1zM447 704h1v4h-1zM448 695h1v15h-1zM449 710h1v3h-1zM450 688h1v28h-1zM451 715h1v3h-1zM452 684h1v31h-1zM453 699h1v9h-1zM454 682h1v27h-1zM455 682h1v31h-1zM456 712h1v3h-1zM457 658h1v55h-1zM458 689h1v16h-1zM459 699h1v9h-1zM460 636h1v74h-1zM461 659h1v54h-1zM462 712h1v6h-1zM463 717h1v4h-1zM464 679h1v41h-1zM465 691h1v29h-1zM466 655h1v65h-1zM467 687h1v32h-1zM468 699h1v25h-1zM469 662h1v53h-1zM470 664h1v49h-1zM471 670h1v43h-1zM472 678h1v37h-1zM473 700h1v17h-1zM474 702h1v20h-1zM475 721h1v4h-1zM476 691h1v31h-1zM477 717h1v3h-1zM478 718h1v5h-1zM479 699h1v20h-1zM480 623h1v94h-1zM481 700h1v18h-1zM482 712h1v13h-1zM483 725h1v4h-1zM484 723h1v4h-1zM485 717h1v7h-1zM486 712h1v5h-1zM487 668h1v45h-1zM488 671h1v35h-1zM489 695h1v12h-1zM490 702h1v7h-1zM491 706h1v10h-1zM492 714h1v4h-1zM493 717h1v4h-1zM494 721h1v4h-1zM495 717h1v10h-1zM496 697h1v30h-1zM497 645h1v69h-1zM498 671h1v42h-1zM499 706h1v9h-1zM500 676h1v40h-1zM501 712h1v6h-1zM502 717h1v4h-1zM503 700h1v19h-1zM504 701h1v20h-1zM505 719h1v4h-1zM506 719h1v4h-1zM507 686h1v36h-1zM508 705h1v19h-1zM509 723h1v5h-1zM510 683h1v41h-1zM511 693h1v22h-1zM512 661h1v51h-1zM513 678h1v35h-1zM514 692h1v22h-1zM515 712h1v4h-1zM516 677h1v38h-1zM517 698h1v17h-1zM518 714h1v4h-1zM519 643h1v72h-1zM520 657h1v47h-1zM521 665h1v40h-1zM522 697h1v10h-1zM523 706h1v7h-1zM524 692h1v26h-1zM525 702h1v23h-1zM526 723h1v5h-1zM527 722h1v5h-1zM528 702h1v21h-1zM529 703h1v22h-1zM530 723h1v4h-1zM531 701h1v29h-1zM532 683h1v38h-1zM533 680h1v39h-1zM534 702h1v20h-1zM535 721h1v3h-1zM536 696h1v29h-1zM537 724h1v4h-1zM538 676h1v51h-1zM539 677h1v45h-1zM540 671h1v48h-1zM541 717h1v10h-1zM542 724h1v4h-1zM543 694h1v33h-1zM544 681h1v39h-1zM545 681h1v36h-1zM546 649h1v64h-1zM547 648h1v59h-1zM548 678h1v26h-1zM549 688h1v19h-1zM550 702h1v12h-1zM551 653h1v63h-1zM552 690h1v30h-1zM553 678h1v41h-1zM554 703h1v20h-1z" fill="#ff0000"/>
<rect x="51" y="713" width="1" height="7" fill="#ff0000"/>
<path d="M63 757h1v5h-1zM82 713h1v49h-1zM130 714h1v48h-1zM131 714h1v48h-1zM333 758h1v4h-1zM350 759h1v3h-1zM357 751h1v11h-1zM365 760h1v2h-1zM377 754h1v8h-1zM378 756h1v6h-1zM379 754h1v8h-1zM381 733h1v29h-1zM382 743h1v19h-1zM384 710h1v52h-1zM385 710h1v52h-1zM386 743h1v19h-1zM388 757h1v5h-1zM391 736h1v26h-1zM392 718h1v44h-1zM394 759h1v3h-1zM395 755h1v7h-1zM399 744h1v18h-1zM405 722h1v40h-1zM422 757h1v5h-1zM423 757h1v5h-1zM424 718h1v44h-1zM425 723h1v39h-1zM444 746h1v16h-1zM445 748h1v14h-1zM446 753h1v9h-1zM448 756h1v6h-1zM450 742h1v20h-1zM452 734h1v28h-1zM453 750h1v12h-1zM454 740h1v22h-1zM455 742h1v20h-1zM456 755h1v7h-1zM457 696h1v66h-1zM458 751h1v11h-1zM459 750h1v12h-1zM460 672h1v90h-1zM461 697h1v65h-1zM464 728h1v34h-1zM465 743h1v19h-1zM466 696h1v66h-1zM467 753h1v9h-1zM469 707h1v55h-1zM470 715h1v47h-1zM471 716h1v46h-1zM472 738h1v24h-1zM476 739h1v23h-1zM479 754h1v8h-1zM480 650h1v112h-1zM487 711h1v51h-1zM488 711h1v51h-1zM489 756h1v6h-1zM496 752h1v10h-1zM497 686h1v76h-1zM498 724h1v38h-1zM500 716h1v46h-1zM503 752h1v10h-1zM507 733h1v29h-1zM510 732h1v30h-1zM512 700h1v62h-1zM513 729h1v33h-1zM516 732h1v30h-1zM519 677h1v85h-1zM520 702h1v60h-1zM521 724h1v38h-1zM524 752h1v10h-1zM531 758h1v4h-1zM532 740h1v22h-1zM533 723h1v39h-1zM536 742h1v20h-1zM538 721h1v41h-1zM539 731h1v31h-1zM540 711h1v51h-1zM543 744h1v18h-1zM544 731h1v31h-1zM545 722h1v40h-1zM546 689h1v73h-1zM547 690h1v72h-1zM549 754h1v8h-1zM551 690h1v72h-1zM553 722h1v40h-1z" fill="#0000ff"/>
<g opacity="0.999">
<text x="266" y="24" font-size="10.4" fill="#000" textLength="19.4" lengthAdjust="spacingAndGlyphs">NAR</text>
<text x="292" y="24" font-size="10.4" fill="#000" textLength="49.41">Longitude</text>
<text x="466" y="21" font-size="14.5" fill="#000" textLength="25.27">Lat:</text>
<text x="500.6" y="21" font-size="14.5" fill="#000" textLength="55.85">+18.40</text>
<text x="73.2" y="34" font-size="10.4" fill="#000" textLength="22.68">−90</text>
<text x="146.3" y="34" font-size="10.4" fill="#000" textLength="22.68">−60</text>
<text x="219.3" y="34" font-size="10.4" fill="#000" textLength="22.68">−30</text>
<text x="300.3" y="34" font-size="10.4" fill="#000" textLength="5" lengthAdjust="spacingAndGlyphs">0</text>
<text x="369.55" y="34" font-size="10.4" fill="#000" textLength="13.83">30</text>
<text x="442.55" y="34" font-size="10.4" fill="#000" textLength="13.83">60</text>
<text x="515.65" y="34" font-size="10.4" fill="#000" textLength="13.83">90</text>
<text x="103.2" y="57.2" font-size="17.8" fill="#000" textLength="36.2" lengthAdjust="spacingAndGlyphs">NAR</text>
<text x="153" y="57.2" font-size="17.8" fill="#000" textLength="62.88">13080</text>
<text x="27.6" y="45" font-size="10.4" fill="#000" textLength="21.92">400</text>
<text x="27.6" y="89.8" font-size="10.4" fill="#000" textLength="21.92">300</text>
<text x="27.6" y="137.3" font-size="10.4" fill="#000" textLength="21.92">200</text>
<text x="27.6" y="184.8" font-size="10.4" fill="#000" textLength="21.92">100</text>
<text x="42.8" y="227.8" font-size="10.4" fill="#000" textLength="5.2" lengthAdjust="spacingAndGlyphs">0</text>
<text x="19" y="157.3" font-size="10.4" fill="#000" textLength="19.4" lengthAdjust="spacingAndGlyphs" transform="rotate(-90 19 157.3)">NAR</text>
<text x="19" y="131.5" font-size="10.4" fill="#000" textLength="23.08" transform="rotate(-90 19 131.5)">Area</text>
<text x="73.72" y="243" font-size="10.4" fill="#000" textLength="35.68">08/04</text>
<text x="167.72" y="243" font-size="10.4" fill="#000" textLength="35.68">08/07</text>
<text x="262.73" y="243" font-size="10.4" fill="#000" textLength="35.68">08/10</text>
<text x="357.73" y="243" font-size="10.4" fill="#000" textLength="35.68">08/13</text>
<text x="451.73" y="243" font-size="10.4" fill="#000" textLength="35.68">08/16</text>
<text x="202.6" y="257" font-size="12.3" fill="#000" textLength="29.01">Start</text>
<text x="237.4" y="257" font-size="12.3" fill="#000" textLength="30.68">Time:</text>
<text x="275" y="257" font-size="12.3" fill="#000" textLength="82.53">(2022/08/02</text>
<text x="365.4" y="257" font-size="12.3" fill="#000" textLength="36.94">17:50)</text>
<text x="558.5" y="65.8" font-size="10.4" fill="#0000ff" textLength="20.46" style="font-style:italic">βγδ</text>
<text x="558.5" y="89.5" font-size="10.4" fill="#0000ff" textLength="12.03" style="font-style:italic">βδ</text>
<text x="558.5" y="113.2" font-size="10.4" fill="#0000ff" textLength="13.82" style="font-style:italic">βγ</text>
<text x="558.5" y="137.0" font-size="10.4" fill="#0000ff" textLength="5.8" lengthAdjust="spacingAndGlyphs" style="font-style:italic">β</text>
<text x="558.5" y="160.8" font-size="10.4" fill="#0000ff" textLength="6.3" style="font-style:italic">α</text>
<text x="589" y="139.1" font-size="10.4" fill="#0000ff" textLength="22.5" lengthAdjust="spacingAndGlyphs" transform="rotate(-90 589 139.1)">Mag.</text>
<text x="589" y="110.2" font-size="10.4" fill="#0000ff" textLength="27.75" transform="rotate(-90 589 110.2)">Class</text>
<text x="28" y="294.5" font-size="10.4" fill="#000" textLength="20.75">X10</text>
<text x="41.4" y="345.6" font-size="10.4" fill="#000" textLength="6.6" lengthAdjust="spacingAndGlyphs">X</text>
<text x="41.4" y="396.9" font-size="10.4" fill="#000" textLength="6.6" lengthAdjust="spacingAndGlyphs">M</text>
<text x="41.4" y="447.7" font-size="10.4" fill="#000" textLength="6.6" lengthAdjust="spacingAndGlyphs">C</text>
<text x="41.4" y="494.8" font-size="10.4" fill="#000" textLength="6.6" lengthAdjust="spacingAndGlyphs">B</text>
<text x="19.2" y="428" font-size="10.4" fill="#000" textLength="26.33" transform="rotate(-90 19.2 428)">Flare</text>
<text x="19.2" y="396.5" font-size="10.4" fill="#000" textLength="31.64" transform="rotate(-90 19.2 396.5)">X−ray</text>
<text x="19.2" y="360.5" font-size="10.4" fill="#000" textLength="28.25" transform="rotate(-90 19.2 360.5)">Class</text>
<text x="560.6" y="287" font-size="10.4" fill="#ff0000" textLength="26.6" lengthAdjust="spacingAndGlyphs">CMEs</text>
<text x="575.4" y="449.6" font-size="12.3" fill="#000" textLength="37.81" transform="rotate(-90 575.4 449.6)">Flares</text>
<text x="575.4" y="405" font-size="12.3" fill="#000" textLength="53.8" transform="rotate(-90 575.4 405)">observed</text>
<text x="575.4" y="343.2" font-size="12.3" fill="#000" textLength="7.2" lengthAdjust="spacingAndGlyphs" transform="rotate(-90 575.4 343.2)">in</text>
<text x="575.4" y="326.2" font-size="12.3" fill="#000" textLength="15.2" lengthAdjust="spacingAndGlyphs" transform="rotate(-90 575.4 326.2)">AR</text>
<text x="73.72" y="510" font-size="10.4" fill="#000" textLength="35.68">08/04</text>
<text x="167.72" y="510" font-size="10.4" fill="#000" textLength="35.68">08/07</text>
<text x="262.73" y="510" font-size="10.4" fill="#000" textLength="35.68">08/10</text>
<text x="357.73" y="510" font-size="10.4" fill="#000" textLength="35.68">08/13</text>
<text x="451.73" y="510" font-size="10.4" fill="#000" textLength="35.68">08/16</text>
<text x="202.6" y="524" font-size="12.3" fill="#000" textLength="29.01">Start</text>
<text x="237.4" y="524" font-size="12.3" fill="#000" textLength="30.68">Time:</text>
<text x="275" y="524" font-size="12.3" fill="#000" textLength="82.53">(2022/08/02</text>
<text x="365.4" y="524" font-size="12.3" fill="#000" textLength="36.94">17:50)</text>
<text x="28" y="561.4" font-size="10.4" fill="#000" textLength="20.75">X10</text>
<text x="41.4" y="612.2" font-size="10.4" fill="#000" textLength="6.6" lengthAdjust="spacingAndGlyphs">X</text>
<text x="41.4" y="663.8" font-size="10.4" fill="#000" textLength="6.6" lengthAdjust="spacingAndGlyphs">M</text>
<text x="41.4" y="714.6" font-size="10.4" fill="#000" textLength="6.6" lengthAdjust="spacingAndGlyphs">C</text>
<text x="41.4" y="762" font-size="10.4" fill="#000" textLength="6.6" lengthAdjust="spacingAndGlyphs">B</text>
<text x="19.2" y="695.6" font-size="10.4" fill="#000" textLength="26.6" lengthAdjust="spacingAndGlyphs" transform="rotate(-90 19.2 695.6)">GOES</text>
<text x="19.2" y="663" font-size="10.4" fill="#000" textLength="31.64" transform="rotate(-90 19.2 663)">X−ray</text>
<text x="19.2" y="626.2" font-size="10.4" fill="#000" textLength="27.75" transform="rotate(-90 19.2 626.2)">Class</text>
<text x="73.72" y="776" font-size="10.4" fill="#000" textLength="35.68">08/04</text>
<text x="167.72" y="776" font-size="10.4" fill="#000" textLength="35.68">08/07</text>
<text x="262.73" y="776" font-size="10.4" fill="#000" textLength="35.68">08/10</text>
<text x="357.73" y="776" font-size="10.4" fill="#000" textLength="35.68">08/13</text>
<text x="451.73" y="776" font-size="10.4" fill="#000" textLength="35.68">08/16</text>
<text x="480.8" y="791" font-size="12.2" fill="#000" textLength="48.2" lengthAdjust="spacingAndGlyphs">Prepared</text>
<text x="536" y="791" font-size="12.2" fill="#000" textLength="11" lengthAdjust="spacingAndGlyphs">by</text>
<text x="554" y="791" font-size="12.2" fill="#000" textLength="29.2" lengthAdjust="spacingAndGlyphs">HELIO</text>
</g>
</svg>
</body></html>
